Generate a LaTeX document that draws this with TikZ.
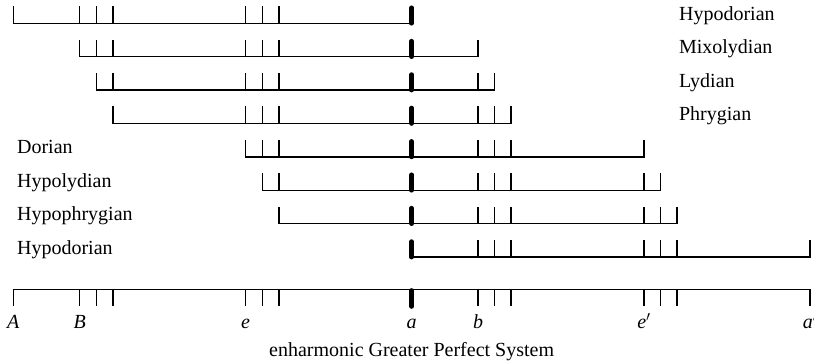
\documentclass[tikz,border=0pt]{standalone}
\usepackage{fontspec}
\setmainfont{Liberation Serif}
\begin{document}
\begin{tikzpicture}[
  x=16.6pt, y=-1pt,
  font=\fontsize{20}{24}\selectfont,
  span/.style={line width=1.5pt, line cap=rect},
  tick/.style={line width=1.5pt},
  mese/.style={line width=4.6pt, line cap=round},
  tonos/.style={inner sep=0pt, anchor=base west},
  note/.style={inner sep=0pt, anchor=base, font=\fontsize{20}{24}\selectfont\itshape},
]
\useasboundingbox (-0.8,0) rectangle (48.24,363);
\def\pitches{0,4,5,6,14,15,16,24,28,29,30,38,39,40,48}
% the eight tonoi
\foreach \y/\lo/\hi/\lx/\name [count=\i] in {
    23.3/0/24/40.1/Hypodorian, 56.7/4/28/40.1/Mixolydian,
    90.1/5/29/40.1/Lydian, 123.5/6/30/40.1/Phrygian,
    156.9/14/38/0.22/Dorian, 190.3/15/39/0.22/Hypolydian,
    223.7/16/40/0.22/Hypophrygian, 257.1/24/48/0.22/Hypodorian}{
  \draw[span] (\lo,\y) -- (\hi,\y);
  \foreach \p in \pitches{
    \ifnum\p<\lo\else\ifnum\p>\hi\else
      \ifnum\p=24 \draw[mese] (\p,\y) -- (\p,\y-15.5);
      \else \draw[tick] (\p,\y) -- (\p,\y-17);\fi
    \fi\fi
  }
  \node[tonos] (tonos\i) at (\lx,\y-3) {\name};
}
% the system itself
\draw[span] (0,289.5) -- (48,289.5);
\foreach \p in \pitches{
  \ifnum\p=24 \draw[mese] (\p,290.5) -- (\p,306.5);
  \else \draw[tick] (\p,289.5) -- (\p,306.5);\fi
}
\foreach \p/\lbl/\txt in {0/A/A, 4/B/B, 14/e/e, 24/a/a, 28/b/b, 38/e1/e$'$, 48/a1/a$'$}
  \node[note] (note-\lbl) at (\p,329) {\txt};
\node[inner sep=0pt, anchor=base] (gps) at (24,357) {enharmonic Greater Perfect System};
\end{tikzpicture}
\end{document}
